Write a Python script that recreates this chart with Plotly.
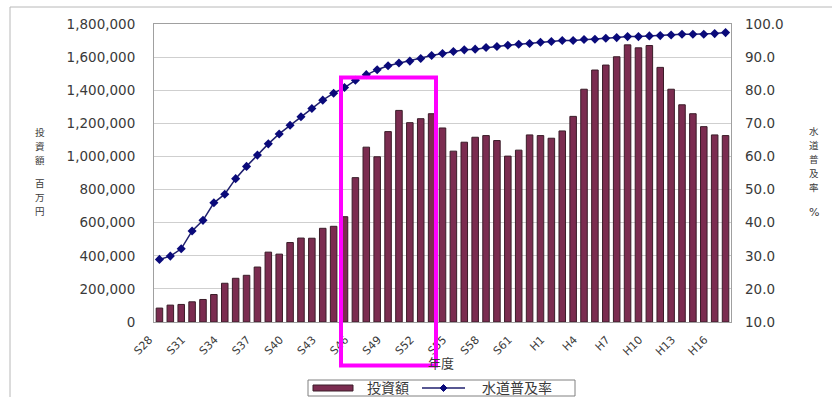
import plotly.graph_objects as go

# Fiscal years S28 (1953) .. H17 (2005)
years = [f"S{n}" for n in range(28, 64)] + [f"H{n}" for n in range(1, 18)]

# Investment amount (million yen)
investment = [
    84000, 102000, 106000, 122000, 136000, 166000, 234000, 264000, 282000, 332000,
    422000, 410000, 480000, 507000, 506000, 566000, 578000, 636000, 872000, 1056000,
    998000, 1150000, 1278000, 1204000, 1228000, 1258000, 1172000, 1032000, 1086000, 1116000,
    1126000, 1096000, 1002000, 1038000, 1130000, 1126000, 1110000, 1154000, 1242000, 1406000,
    1522000, 1552000, 1602000, 1674000, 1656000, 1670000, 1538000, 1406000, 1312000, 1258000,
    1180000, 1130000, 1126000,
]

# Water supply coverage (%)
coverage = [
    28.9, 29.9, 32.1, 37.5, 40.7, 46.0, 48.6, 53.3, 57.0, 60.4,
    63.8, 66.8, 69.4, 72.0, 74.5, 77.0, 79.1, 80.8, 83.0, 84.7,
    86.2, 87.4, 88.2, 88.8, 89.6, 90.5, 91.1, 91.7, 92.2, 92.4,
    92.9, 93.2, 93.6, 93.9, 94.1, 94.5, 94.7, 95.0, 95.0, 95.3,
    95.4, 95.7, 95.9, 96.2, 96.2, 96.4, 96.5, 96.7, 96.9, 96.9,
    96.9, 97.1, 97.4,
]

tick_years = years[::3]

# vertical axis titles, written one character under another
left_title_top = "投資額"
left_title_bottom = "百万円"
right_title = "水道普及率"

W, H = 832, 397
L, R, T, B = 154, 731, 24, 322  # plot area in pixels

BAR_FILL, BAR_EDGE = "#7B2C50", "#3A1C28"
LINE_COLOR, MARKER_COLOR = "#1F1F6E", "#0A0A7A"


def px(x):
    return (x - L) / (R - L)


def py(y):
    return (B - y) / (B - T)


def diamond_path(cx, cy, r):
    pts = [(cx, cy - r), (cx + r, cy), (cx, cy + r), (cx - r, cy)]
    return "M " + " L ".join(f"{px(x)},{py(y)}" for x, y in pts) + " Z"


NUM_FONT = "DejaVu Sans"
JP_FONT = "Noto Sans CJK JP"
TXT = "#3a3a3a"

fig = go.Figure()
fig.add_trace(go.Bar(
    x=years, y=investment, name="投資額",
    marker=dict(color=BAR_FILL, line=dict(color=BAR_EDGE, width=1)),
    yaxis="y",
))
fig.add_trace(go.Scatter(
    x=years, y=coverage, name="水道普及率", mode="lines+markers",
    line=dict(color=LINE_COLOR, width=1.5),
    marker=dict(symbol="diamond", size=7, color=MARKER_COLOR),
    yaxis="y2",
))

shapes = [
    # outer chart frame
    dict(type="rect", xref="paper", yref="paper",
         x0=px(10), x1=px(845), y0=py(410), y1=py(7),
         line=dict(color="#b8b8b8", width=1), layer="below"),
    # legend box
    dict(type="rect", xref="paper", yref="paper",
         x0=px(308), x1=px(575), y0=py(396), y1=py(380),
         line=dict(color="#808080", width=1), fillcolor="white", layer="above"),
    # legend swatch: bars
    dict(type="rect", xref="paper", yref="paper",
         x0=px(313), x1=px(353), y0=py(391), y1=py(385),
         line=dict(color=BAR_EDGE, width=1), fillcolor=BAR_FILL, layer="above"),
    # legend swatch: line with marker
    dict(type="line", xref="paper", yref="paper",
         x0=px(422), x1=px(465), y0=py(388), y1=py(388),
         line=dict(color=LINE_COLOR, width=1.5), layer="above"),
    dict(type="path", xref="paper", yref="paper", path=diamond_path(443.5, 388, 3.5),
         line=dict(color=MARKER_COLOR, width=1), fillcolor=MARKER_COLOR, layer="above"),
    # highlight box
    dict(type="rect", xref="paper", yref="paper",
         x0=px(341), x1=px(436), y0=py(365.5), y1=py(77.5),
         line=dict(color="#FF00FF", width=4), layer="above"),
]


def note(text, x, y, size=12, family=JP_FONT, xanchor="center"):
    return dict(text=text, x=px(x), y=py(y), xref="paper", yref="paper",
                xanchor=xanchor, yanchor="middle", showarrow=False,
                font=dict(family=family, size=size, color=TXT))


def column(text, x, y_first, step=14, size=9.5):
    return [note(ch, x, y_first + i * step, size=size) for i, ch in enumerate(text)]


annotations = (
    column(left_title_top, 40, 132)
    + column(left_title_bottom, 40, 183)
    + column(right_title, 814, 131)
    + [
        note("%", 814, 212, size=11, family=NUM_FONT),
        note("年度", 441, 362, size=13),
        note("投資額", 388, 386.5, size=14),
        note("水道普及率", 517, 386.5, size=14),
    ]
)

fig.update_layout(
    width=W, height=H,
    margin=dict(l=L, r=W - R, t=T, b=H - B, pad=0, autoexpand=False),
    paper_bgcolor="white", plot_bgcolor="white",
    bargap=0.4,
    showlegend=False,
    xaxis=dict(
        type="category", range=[-0.5, len(years) - 0.5],
        tickmode="array", tickvals=tick_years, ticktext=tick_years,
        tickangle=-45, tickfont=dict(family=NUM_FONT, size=11, color=TXT),
        ticklabelshift=-10, ticklabelstandoff=6,
        showgrid=False, showline=True, linecolor="#a0a0a0", mirror=True,
        ticks="", zeroline=False, automargin=False,
    ),
    yaxis=dict(
        range=[0, 1800000], dtick=200000, tickformat=",",
        tickfont=dict(family=NUM_FONT, size=13.5, color=TXT),
        showgrid=True, gridcolor="#cfcfcf", gridwidth=1,
        showline=True, linecolor="#a0a0a0", mirror=True,
        ticks="", ticklabelstandoff=15, zeroline=False, automargin=False,
    ),
    yaxis2=dict(
        range=[10, 100], dtick=10, tickformat=".1f", overlaying="y", side="right",
        tickfont=dict(family=NUM_FONT, size=13.5, color=TXT),
        showgrid=False, ticks="", ticklabelstandoff=13, zeroline=False, automargin=False,
    ),
    shapes=shapes,
    annotations=annotations,
)

fig.write_html("out.html")
